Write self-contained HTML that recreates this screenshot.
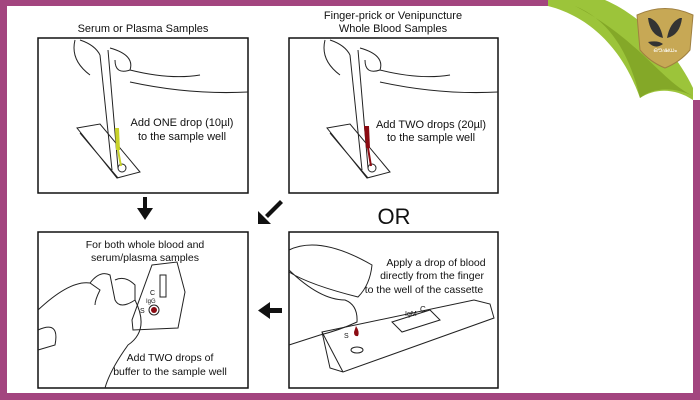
<!DOCTYPE html>
<html><head><style>
body{margin:0;width:700px;height:400px;overflow:hidden;background:#fff}
svg{display:block}
text{font-family:"Liberation Sans",sans-serif;fill:#111}
</style></head><body>
<svg width="700" height="400" viewBox="0 0 700 400">
<rect x="0" y="0" width="700" height="400" fill="#a3457f"/>
<rect x="7" y="6" width="686" height="387" fill="#fff"/>
<rect x="548" y="0" width="152" height="100" fill="#fff"/>
<!-- green curl -->
<path d="M548 0 L605 0 C640 15 675 50 693 88 L693 100 C675 88 655 88 640 98 C625 55 595 18 548 6 Z" fill="#9cc43a"/>
<path d="M575 6 C610 20 630 55 640 98 C652 88 672 86 693 96 C660 80 640 40 575 6Z" fill="#84a828"/>
<!-- logo -->
<path d="M637 15 Q665 2 693 15 L690 50 Q680 62 665 68 Q650 62 640 50 Z" fill="#c7a855" stroke="#a08040"/>
<path d="M650 18 Q660 22 663 38 Q650 35 648 18Z M680 18 Q670 22 667 38 Q680 35 682 18Z M648 42 Q658 40 663 44 Q655 50 648 42Z" fill="#333"/>
<text x="665" y="52" font-size="6" text-anchor="middle" style="fill:#fff">ഔഷധം</text>
<!-- titles -->
<text x="143" y="32" font-size="11" text-anchor="middle">Serum or Plasma Samples</text>
<text x="393" y="19" font-size="11" text-anchor="middle">Finger-prick or Venipuncture</text>
<text x="393" y="32" font-size="11" text-anchor="middle">Whole Blood Samples</text>
<g fill="none" stroke="#111" stroke-width="1.5">
<rect x="38" y="38" width="210" height="155"/>
<rect x="289" y="38" width="209" height="155"/>
<rect x="38" y="232" width="210" height="156"/>
<rect x="289" y="232" width="209" height="156"/>
</g>
<!-- panel 1 drawing -->
<g fill="none" stroke="#222" stroke-width="1">
<path d="M75 40 Q70 60 90 75 M80 40 Q95 45 100 55 M110 48 Q135 55 130 70 Q115 75 115 60 M130 70 Q170 80 200 75 M130 82 Q190 95 248 92 M100 55 L112 170 M108 50 L118 168"/>
<path d="M77 128 L100 124 L140 172 L117 178 Z M80 133 L118 178"/>
<circle cx="122" cy="168" r="4"/>
</g>
<path d="M115 128 L119 128 L120 150 L116 150 Z" fill="#c8d22a"/>
<line x1="118" y1="150" x2="121" y2="166" stroke="#c8d22a" stroke-width="2"/>
<text x="182" y="126" font-size="11" text-anchor="middle">Add ONE drop (10µl)</text>
<text x="182" y="140" font-size="11" text-anchor="middle">to the sample well</text>
<!-- panel 2 drawing -->
<g fill="none" stroke="#222" stroke-width="1">
<path d="M325 40 Q320 60 340 75 M330 40 Q345 45 350 55 M360 48 Q385 55 380 70 Q365 75 365 60 M380 70 Q420 80 450 75 M380 82 Q440 95 498 92 M350 55 L362 170 M358 50 L368 168"/>
<path d="M327 128 L350 124 L390 172 L367 178 Z M330 133 L368 178"/>
<circle cx="372" cy="168" r="4"/>
</g>
<path d="M364 126 L369 126 L370 148 L366 148 Z" fill="#8b0b12"/>
<line x1="368" y1="148" x2="371" y2="166" stroke="#8b0b12" stroke-width="2"/>
<text x="431" y="128" font-size="11" text-anchor="middle">Add TWO drops (20µl)</text>
<text x="431" y="141" font-size="11" text-anchor="middle">to the sample well</text>
<!-- arrows -->
<g fill="#111">
<rect x="143" y="197" width="4" height="13"/><path d="M137 208 L153 208 L145 220Z"/>
<path d="M280 200 L283 203 L268 218 L265 215Z"/><path d="M258 211 L258 224 L271 224Z"/>
<rect x="267" y="308" width="15" height="5"/><path d="M270 302 L270 319 L258 310.5Z"/>
</g>
<text x="394" y="224" font-size="22" text-anchor="middle">OR</text>
<!-- panel 3 -->
<text x="145" y="248" font-size="10.5" text-anchor="middle">For both whole blood and</text>
<text x="145" y="261" font-size="10.5" text-anchor="middle">serum/plasma samples</text>
<g fill="none" stroke="#222" stroke-width="1">
<path d="M38 310 Q70 280 90 283 L100 290 Q95 300 95 305 M90 283 Q100 270 110 275 L115 300 M115 280 Q125 275 135 285 L135 300 Q120 310 115 300 M38 330 Q60 320 55 345 L38 350 M135 300 Q150 330 128 345 Q110 370 105 388"/>
<path d="M152 265 L177 262 L185 292 L178 328 L133 330 L132 320 Z"/>
<rect x="160" y="275" width="6" height="22"/>
<circle cx="154" cy="310" r="5"/>
</g>
<circle cx="154" cy="310" r="3" fill="#8b0b12"/>
<text x="150" y="295" font-size="7">C</text><text x="146" y="303" font-size="6">IgG</text>
<text x="140" y="313" font-size="7">S</text>
<text x="170" y="361" font-size="10.5" text-anchor="middle">Add TWO drops of</text>
<text x="170" y="375" font-size="10.5" text-anchor="middle">buffer to the sample well</text>
<!-- panel 4 -->
<text x="436" y="266" font-size="10.5" text-anchor="middle">Apply a drop of blood</text>
<text x="432" y="279" font-size="10.5" text-anchor="middle">directly from the finger</text>
<text x="424" y="293" font-size="10.5" text-anchor="middle">to the well of the cassette</text>
<g fill="none" stroke="#222" stroke-width="1">
<path d="M289 250 Q320 235 372 265 Q370 285 358 297 Q310 285 289 272 M289 270 Q320 300 345 300 Q358 305 357 322 Q340 330 320 335 L289 345"/>
<path d="M322 332 L474 300 L490 304 L494 318 L343 372 L330 368 Z M322 332 L343 372"/>
<path d="M392 322 L430 310 L440 320 L402 332 Z"/>
<ellipse cx="357" cy="350" rx="6" ry="3"/>
</g>
<path d="M356 326 Q360 332 358 336 Q354 337 354 332Z" fill="#8b0b12"/>
<text x="344" y="338" font-size="7">S</text>
<text x="405" y="316" font-size="7">IgM</text><text x="420" y="312" font-size="8">C</text>
</svg>
</body></html>
